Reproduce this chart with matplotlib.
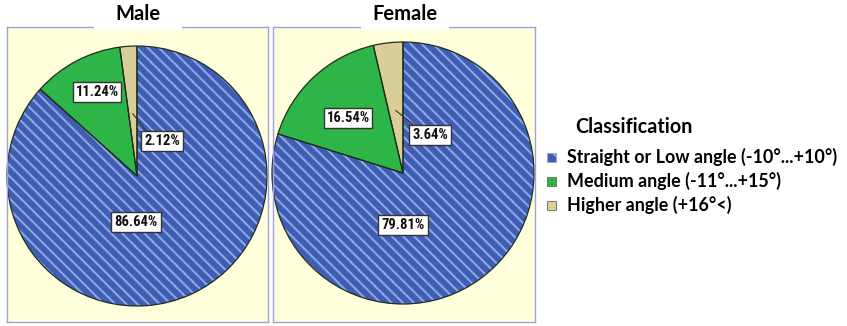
import numpy as np
import matplotlib
matplotlib.use("Agg")
import matplotlib.pyplot as plt
from matplotlib.patches import Rectangle

# Data
groups = ["Male", "Female"]
categories = ["Straight or Low angle (-10°...+10°)",
              "Medium angle (-11°...+15°)",
              "Higher angle (+16°<)"]
male_pct = [86.64, 11.24, 2.12]
female_pct = [79.81, 16.54, 3.64]
values = [male_pct, female_pct]

colors = ["#3e5db3", "#2db548", "#d9cd98"]
hatch_col = "#8ea6e2"
panel_bg = "#ffffdc"
panel_edge = "#a0a0dc"

plt.rcParams["hatch.color"] = hatch_col
plt.rcParams["hatch.linewidth"] = 1.5

W, H = 847, 326
fig = plt.figure(figsize=(W / 100, H / 100), dpi=100)
fig.patch.set_facecolor("white")

# panel boxes in pixels: (left, top, width, height), pie centre (x, y), radius
panels = [
    dict(box=(7, 27, 261, 295), centre=(137, 176), r=130, title_x=138,
         labels=[(136, 222), (97, 92), (162, 141)]),
    dict(box=(273, 27, 262, 295), centre=(403, 173), r=131, title_x=405,
         labels=[(403, 225), (348, 118), (430, 135)]),
]

label_font = dict(family=["Liberation Sans Narrow", "Roboto Condensed", "Roboto"],
                  fontweight="bold", fontsize=10.5)
title_font = dict(family=["Lato", "DejaVu Sans"], fontweight="bold", fontsize=14.5)
legend_font = dict(family=["Lato", "DejaVu Sans"], fontweight="bold")

# overlay axes in pixel units for figure-level decorations
over = fig.add_axes([0, 0, 1, 1], zorder=10)
over.set_xlim(0, W)
over.set_ylim(H, 0)
over.axis("off")

for name, vals, p in zip(groups, values, panels):
    l, t, w, h = p["box"]
    ax = fig.add_axes([l / W, 1 - (t + h) / H, w / W, h / H])
    ax.set_facecolor(panel_bg)
    ax.set_xticks([])
    ax.set_yticks([])
    for s in ax.spines.values():
        s.set_edgecolor(panel_edge)
        s.set_linewidth(1.0)

    cx, cy = p["centre"]
    r = p["r"]
    # y axis is inverted, so counterclock=True draws clockwise on screen
    wedges, _ = ax.pie(vals, colors=colors, startangle=-90, counterclock=True,
                       radius=r, center=(cx, cy), frame=True,
                       wedgeprops=dict(linewidth=0))
    wedges[0].set_hatch("\\" * 3)
    wedges[0].set_edgecolor(hatch_col)
    wedges[0].set_linewidth(0)
    ax.pie(vals, colors=["none"] * 3, startangle=-90, counterclock=True,
           radius=r, center=(cx, cy), frame=True,
           wedgeprops=dict(linewidth=0.9, edgecolor="#1f2f1f", fill=False))
    ax.set_xlim(l, l + w)
    ax.set_ylim(t + h, t)
    ax.set_aspect("auto")

    # leader line from the small wedge to its label
    theta1, theta2 = wedges[2].theta1, wedges[2].theta2
    mid = np.deg2rad((theta1 + theta2) / 2)
    px, py = cx + 0.48 * r * np.cos(mid), cy + 0.48 * r * np.sin(mid)
    lx, ly = p["labels"][2]
    ax.plot([px, lx - 15], [py, ly - 9], color="#333333", lw=0.8)

    for v, (x, y) in zip(vals, p["labels"]):
        ax.text(x, y, f"{v:.2f}%", ha="center", va="center", color="#111111",
                bbox=dict(boxstyle="square,pad=0.2", facecolor="white",
                          edgecolor="#333333", linewidth=1.0), **label_font)

    # title sits on a white strip that interrupts the panel border
    tx = p["title_x"]
    over.add_patch(Rectangle((tx - 44, 0), 88, 30, facecolor="white",
                             edgecolor="none"))
    over.text(tx, 14, name, ha="center", va="center", **title_font)

# legend
over.text(575, 127, "Classification", ha="left", va="center",
          fontsize=14.2, **legend_font)
leg_y = [157, 181, 205]
for i, (lab, y) in enumerate(zip(categories, leg_y)):
    rect = Rectangle((547, y - 4.5), 9, 9, facecolor=colors[i],
                     edgecolor=hatch_col if i == 0 else "#666666",
                     linewidth=0.6, hatch="\\\\" if i == 0 else None)
    over.add_patch(rect)
    over.text(567, y, lab, ha="left", va="center", fontsize=12.9, **legend_font)

fig.savefig("out.png", dpi=100)
